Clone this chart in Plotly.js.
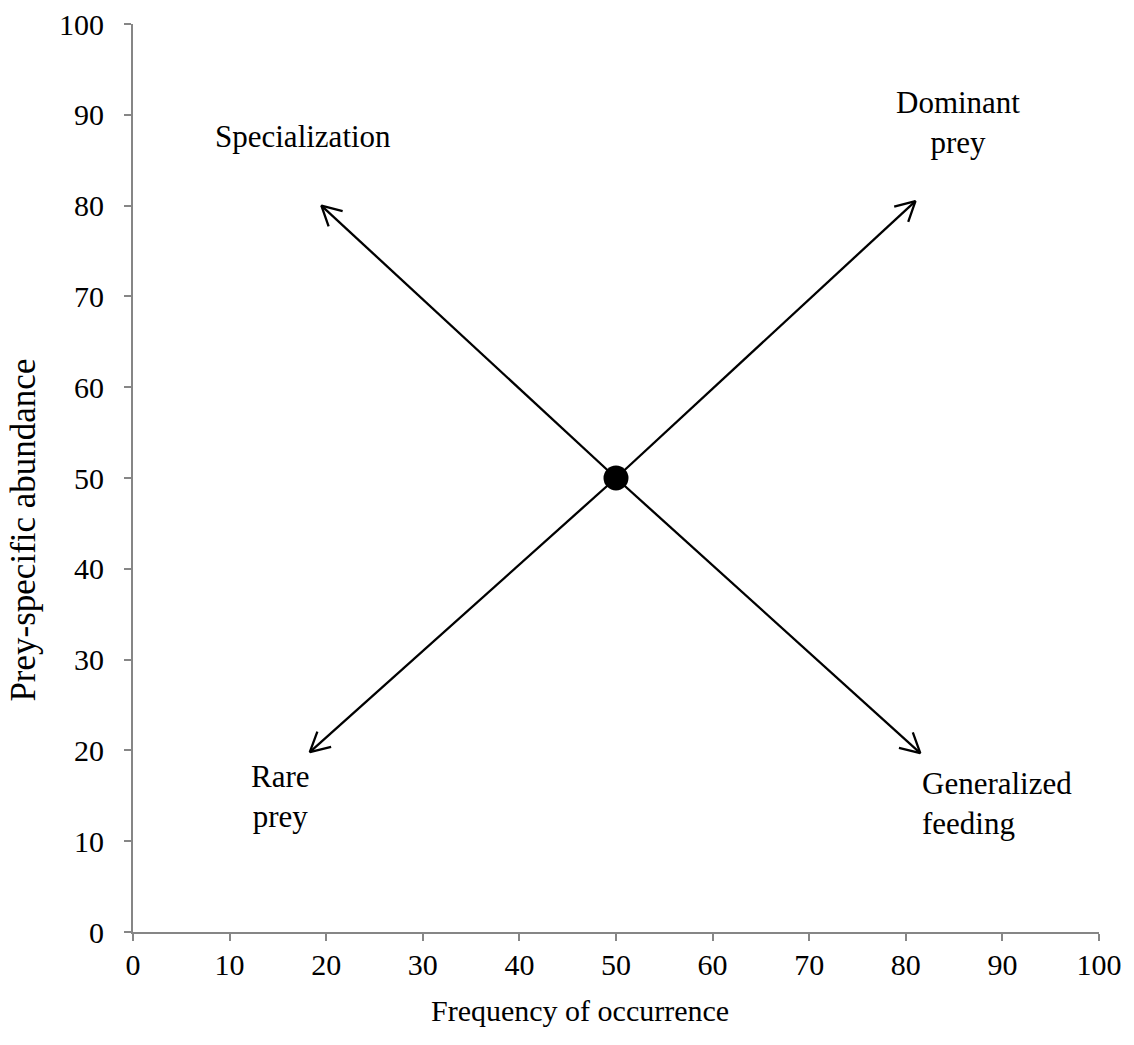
<!DOCTYPE html>
<html>
<head>
<meta charset="utf-8">
<script src="https://cdn.plot.ly/plotly-3.0.1.min.js"></script>
<style>html,body{margin:0;padding:0;background:#fff;}#chart{width:1134px;height:1045px;}</style>
</head>
<body>
<div id="chart"></div>
<script>
// ---- data ----
const centerX = [50];
const centerY = [50];
const arrowTipX = [19.5, 81.0, 18.3, 81.5];
const arrowTipY = [80.0, 80.5, 19.8, 19.7];
const labelTexts = ["Specialization", "Dominant<br>prey", "Rare<br>prey", "Generalized<br>feeding"];
const labelX = [17.6, 85.4, 15.3, 81.5];
const labelY = [87.6, 89.1, 14.9, 14.1];
const tickVals = [0, 10, 20, 30, 40, 50, 60, 70, 80, 90, 100];
const xTitle = "Frequency of occurrence";
const yTitle = "Prey-specific abundance";

// ---- layout constants ----
const W = 1134, H = 1045;
const M = {l: 133, r: 35, t: 24, b: 113};
const xr = [0, 100], yr = [0, 100];
const pxX = (W - M.l - M.r) / (xr[1] - xr[0]);
const pxY = (H - M.t - M.b) / (yr[1] - yr[0]);
const headLen = 22, headAng = 28 * Math.PI / 180;

const lx = [], ly = [];
for (let i = 0; i < arrowTipX.length; i++) {
  const tx = arrowTipX[i], ty = arrowTipY[i];
  lx.push(centerX[0], tx, null);
  ly.push(centerY[0], ty, null);
  let ux = (centerX[0] - tx) * pxX, uy = (centerY[0] - ty) * pxY;
  const n = Math.hypot(ux, uy); ux /= n; uy /= n;
  const arms = [headAng, -headAng].map(a => {
    const rx = ux * Math.cos(a) - uy * Math.sin(a);
    const ry = ux * Math.sin(a) + uy * Math.cos(a);
    return [tx + headLen * rx / pxX, ty + headLen * ry / pxY];
  });
  lx.push(arms[0][0], tx, arms[1][0], null);
  ly.push(arms[0][1], ty, arms[1][1], null);
}

const font = '"Liberation Serif", "Times New Roman", serif';

const traces = [
  {x: lx, y: ly, mode: 'lines', type: 'scatter', line: {color: '#000', width: 2.3}, hoverinfo: 'skip', cliponaxis: false},
  {x: centerX, y: centerY, mode: 'markers', type: 'scatter', marker: {color: '#000', size: 25}, cliponaxis: false}
];

const annotations = labelTexts.map((t, i) => ({
  x: labelX[i], y: labelY[i], xref: 'x', yref: 'y', text: t, showarrow: false,
  xanchor: i === 3 ? 'left' : 'center', align: i === 3 ? 'left' : 'center',
  font: {family: font, size: 31, color: '#000'}
}));
// axis titles, placed as in the reference
annotations.push({
  x: -0.113, y: 0.443, xref: 'paper', yref: 'paper', text: yTitle, showarrow: false,
  textangle: -90, xanchor: 'center', yanchor: 'middle',
  font: {family: font, size: 35, color: '#000'}
});
annotations.push({
  x: 0.463, y: -0.086, xref: 'paper', yref: 'paper', text: xTitle, showarrow: false,
  xanchor: 'center', yanchor: 'middle',
  font: {family: font, size: 30, color: '#000'}
});

const axisCommon = {
  range: xr, tickvals: tickVals, ticks: 'outside', ticklen: 7, tickwidth: 2,
  tickcolor: '#868686', showline: true, linecolor: '#868686', linewidth: 2,
  showgrid: false, zeroline: false, fixedrange: true,
  tickfont: {family: font, size: 30, color: '#000'}
};

const layout = {
  width: W, height: H, margin: M, showlegend: false,
  paper_bgcolor: '#fff', plot_bgcolor: '#fff',
  xaxis: Object.assign({}, axisCommon, {ticklabelstandoff: -2}),
  yaxis: Object.assign({}, axisCommon, {range: yr, ticklabelstandoff: 14}),
  annotations: annotations
};

Plotly.newPlot('chart', traces, layout, {staticPlot: true});
</script>
</body>
</html>
